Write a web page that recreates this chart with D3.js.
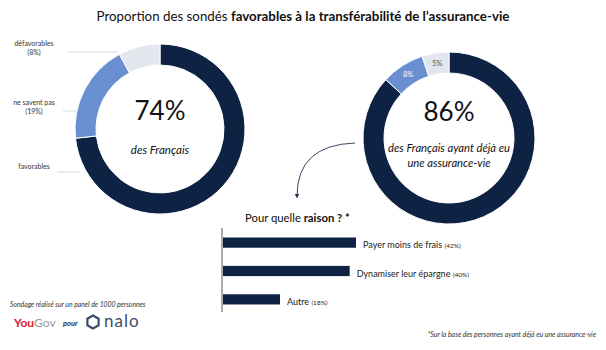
<!DOCTYPE html>
<html>
<head>
<meta charset="utf-8">
<script src="https://cdn.jsdelivr.net/npm/d3@7"></script>
<style>
  body { margin: 0; background: #fff; }
  svg { font-family: Lato, "Open Sans", sans-serif; }
</style>
</head>
<body>
<div id="chart"></div>
<script>
// data
const leftLabels = ["favorables", "ne savent pas", "défavorables"];
const leftValues = [74, 19, 8];
const rightLabels = ["favorables", "ne savent pas", "défavorables"];
const rightValues = [86, 8, 5];
const reasonLabels = ["Payer moins de frais", "Dynamiser leur épargne", "Autre"];
const reasonValues = [42, 40, 18];

const width = 606, height = 350;
const navy = "#0e2343", blue = "#6a8fd1", grey = "#e2e6ed";
const sliceColors = [navy, blue, grey];

const svg = d3.select("#chart").append("svg")
    .attr("width", width)
    .attr("height", height);

// Title
const title = svg.append("text")
    .attr("x", 303).attr("y", 21)
    .attr("text-anchor", "middle")
    .style("font-size", "13.3px")
    .attr("fill", "#111");
title.append("tspan").text("Proportion des sondés ");
title.append("tspan").style("font-weight", "bold").text("favorables à la transférabilité de l\u2019assurance-vie");

const pie = d3.pie().sort(null).value(d => d);

function donut(values, cx, cy, rOuter, rInner) {
    const g = svg.append("g").attr("transform", `translate(${cx},${cy})`);
    const arc = d3.arc().innerRadius(rInner).outerRadius(rOuter);
    const arcs = pie(values);
    g.selectAll("path")
        .data(arcs)
        .enter().append("path")
        .attr("d", arc)
        .attr("fill", (d, i) => sliceColors[i])
        .attr("stroke", "#fff")
        .attr("stroke-width", 1);
    return { g, arc, arcs };
}

// Left donut
const left = donut(leftValues, 160, 129, 85, 64);
left.g.append("text")
    .attr("y", -9).attr("text-anchor", "middle")
    .style("font-size", "26px").attr("fill", "#111")
    .text(leftValues[0] + "%");
left.g.append("text")
    .attr("y", 25).attr("text-anchor", "middle")
    .style("font-size", "11.5px").style("font-style", "italic").attr("fill", "#111")
    .text("des Français");

// Left labels with leader lines
const leftLabelPos = [
    { y: 172, x1: 57, x2: 80, lines: [leftLabels[0]] },
    { y: 111, x1: 63, x2: 76, lines: [leftLabels[1], "(" + leftValues[1] + "%)"] },
    { y: 52, x1: 68, x2: 118, lines: [leftLabels[2], "(" + leftValues[2] + "%)"] }
];
leftLabelPos.forEach(p => {
    svg.append("line")
        .attr("x1", p.x1).attr("x2", p.x2)
        .attr("y1", p.y).attr("y2", p.y)
        .attr("stroke", "#d3d8e0").attr("stroke-width", 1);
    const t = svg.append("text")
        .attr("text-anchor", "middle")
        .style("font-size", "7px").attr("fill", "#333");
    const n = p.lines.length;
    p.lines.forEach((l, i) => {
        t.append("tspan")
            .attr("x", 34)
            .attr("y", p.y - 6 + i * 9 + (n === 1 ? 3 : 0))
            .text(l);
    });
});

// Right donut
const right = donut(rightValues, 449, 138, 86, 65);
right.g.append("text")
    .attr("y", -17).attr("text-anchor", "middle")
    .style("font-size", "26px").attr("fill", "#111")
    .text(rightValues[0] + "%");
const rt = right.g.append("text")
    .attr("text-anchor", "middle")
    .style("font-size", "11.2px").style("font-style", "italic").attr("fill", "#111");
rt.append("tspan").attr("x", 0).attr("y", 14).text("des Français ayant déjà eu");
rt.append("tspan").attr("x", 0).attr("y", 29).text("une assurance-vie");

right.g.selectAll(".slice-label")
    .data(right.arcs.slice(1))
    .enter().append("text")
    .attr("class", "slice-label")
    .attr("transform", d => `translate(${right.arc.centroid(d)})`)
    .attr("dy", "0.35em")
    .attr("text-anchor", "middle")
    .style("font-size", "7.5px")
    .attr("fill", (d, i) => i === 0 ? "#fff" : "#555")
    .text(d => d.data + "%");

// Curved arrow
svg.append("defs").append("marker")
    .attr("id", "arrow")
    .attr("viewBox", "0 0 10 10")
    .attr("refX", 5).attr("refY", 5)
    .attr("markerWidth", 5).attr("markerHeight", 5)
    .attr("orient", "auto")
    .append("path").attr("d", "M0,0L10,5L0,10z").attr("fill", "#2b3550");
svg.append("path")
    .attr("d", "M355,143 Q297,145 297,196")
    .attr("fill", "none")
    .attr("stroke", "#3a4560")
    .attr("stroke-width", 1)
    .attr("marker-end", "url(#arrow)");

// Sub-title
const sub = svg.append("text")
    .attr("x", 245).attr("y", 222)
    .style("font-size", "11.3px").attr("fill", "#111");
sub.append("tspan").text("Pour quelle ");
sub.append("tspan").style("font-weight", "bold").text("raison ? *");

// Bars
const x = d3.scaleLinear().domain([0, 42]).range([223, 356]);
const y = d3.scaleBand().domain(reasonLabels).range([229, 313]).paddingInner(0.64).paddingOuter(0.3);

svg.append("line")
    .attr("x1", 222).attr("x2", 222)
    .attr("y1", 228).attr("y2", 312)
    .attr("stroke", "#555").attr("stroke-width", 1);

svg.selectAll(".bar")
    .data(reasonValues)
    .enter().append("rect")
    .attr("class", "bar")
    .attr("x", x(0))
    .attr("y", (d, i) => y(reasonLabels[i]))
    .attr("width", d => x(d) - x(0))
    .attr("height", y.bandwidth())
    .attr("fill", navy);

const bl = svg.selectAll(".bar-label")
    .data(reasonValues)
    .enter().append("text")
    .attr("class", "bar-label")
    .attr("x", d => x(d) + 7)
    .attr("y", (d, i) => y(reasonLabels[i]) + y.bandwidth() / 2)
    .attr("dy", "0.35em")
    .attr("fill", "#222");
bl.append("tspan").style("font-size", "9px").text((d, i) => reasonLabels[i] + " ");
bl.append("tspan").style("font-size", "6.5px").text(d => "(" + d + "%)");

// Footer
svg.append("text")
    .attr("x", 10).attr("y", 307)
    .style("font-size", "6.8px").style("font-style", "italic").attr("fill", "#333")
    .text("Sondage réalisé sur un panel de 1000 personnes");

const yg = svg.append("text")
    .attr("x", 14).attr("y", 327)
    .style("font-size", "12px");
yg.append("tspan").style("font-weight", "bold").attr("fill", "#e0202e").text("You");
yg.append("tspan").attr("fill", "#9a9a9a").text("Gov");

svg.append("text")
    .attr("x", 63).attr("y", 326)
    .style("font-size", "7.5px").style("font-style", "italic").style("font-weight", "bold")
    .attr("fill", "#333")
    .text("pour");

// nalo hexagon
const hex = d3.range(6).map(i => {
    const a = Math.PI / 3 * i - Math.PI / 2;
    return [93 + 6.5 * Math.cos(a), 322 + 6.5 * Math.sin(a)];
});
svg.append("path")
    .attr("d", d3.line()(hex) + "Z")
    .attr("fill", "none")
    .attr("stroke", "#3d4e6a")
    .attr("stroke-width", 2.2);
svg.append("text")
    .attr("x", 104).attr("y", 327)
    .style("font-size", "17px").style("letter-spacing", "1px")
    .attr("fill", "#3d4e6a")
    .text("nalo");

svg.append("text")
    .attr("x", 596).attr("y", 337)
    .attr("text-anchor", "end")
    .style("font-size", "6.9px").style("font-style", "italic").attr("fill", "#333")
    .text("*Sur la base des personnes ayant déjà eu une assurance-vie");
</script>
</body>
</html>
